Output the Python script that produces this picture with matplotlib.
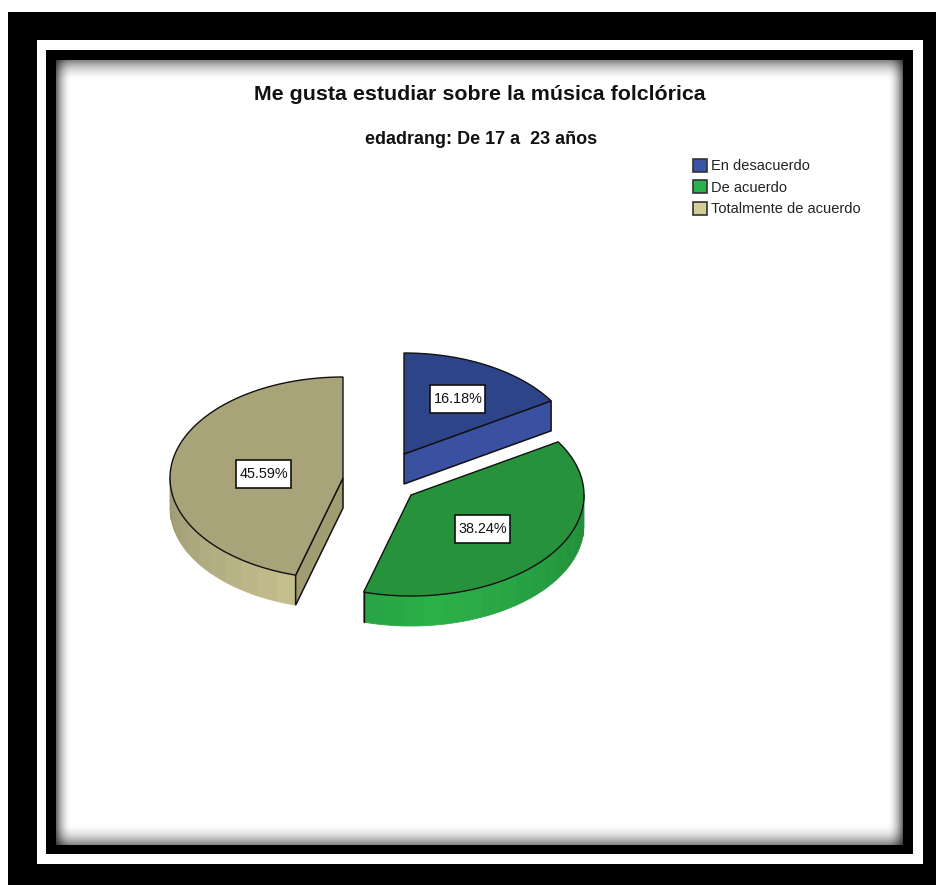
import matplotlib
matplotlib.use('Agg')
import matplotlib.pyplot as plt
from matplotlib.patches import Polygon, Rectangle, Patch
import numpy as np

plt.rcParams['font.family'] = ['Liberation Sans', 'DejaVu Sans']

# Data
categories = ['En desacuerdo', 'De acuerdo', 'Totalmente de acuerdo']
percents = [16.18, 38.24, 45.59]
title = 'Me gusta estudiar sobre la música folclórica'
subtitle = 'edadrang: De 17 a  23 años'

# Colours per slice
top_colors = ['#2e4489', '#26923b', '#a9a379']
side_light = ['#3a50a0', '#2bb049', '#c6c08e']
side_dark = ['#3a50a0', '#218a38', '#9b9672']
cut_colors = ['#3a50a0', '#26923b', '#a29c73']
legend_colors = ['#3a53a4', '#2db14a', '#d3ce97']

# Pie geometry in pixels: each slice has its own apex because they are exploded
apex = [(404, 454), (411, 495), (343, 478)]
label_pos = [(458, 399), (483, 529), (264, 474)]
rx, ry = 173, 101
depth = 30


def rim(center, t):
    return center[0] + rx * np.sin(t), center[1] - ry * np.cos(t)


fig = plt.figure(figsize=(9.37, 8.85), dpi=100)
ax = fig.add_axes([0, 0, 1, 1])
ax.set_xlim(0, 937)
ax.set_ylim(885, 0)
ax.axis('off')

# Frame: black, white, black, then the white page with a soft inner shadow
ax.add_patch(Rectangle((8, 12), 929, 873, fc='black', ec='none'))
ax.add_patch(Rectangle((37, 40), 886, 824, fc='white', ec='none'))
ax.add_patch(Rectangle((46, 50), 867, 804, fc='black', ec='none'))
xs = np.arange(0, 847) + 0.5
ys = np.arange(0, 785) + 0.5
gx, gy = np.meshgrid(xs, ys)
dx = np.minimum(gx, 847 - gx)
dy = np.minimum(gy, 785 - gy)
shade = (1 - 0.62 * np.clip(1 - dx / 16, 0, 1) ** 2) * (1 - 0.5 * np.clip(1 - dy / 22, 0, 1) ** 2)
ax.imshow(shade, cmap='gray', vmin=0, vmax=1, extent=(56, 903, 845, 60), aspect='auto', zorder=1)
ax.set_xlim(0, 937)
ax.set_ylim(885, 0)

# Slice angles, clockwise from 12 o'clock
edges = np.radians(np.cumsum([0] + percents) * 360 / sum(percents))

for i in range(len(percents)):
    t0, t1 = edges[i], edges[i + 1]
    c = apex[i]

    # visible outer wall, in bands from light (front) to dark (side)
    lo, hi = max(t0, np.pi / 2), min(t1, 3 * np.pi / 2)
    if hi > lo:
        bands = np.linspace(lo, hi, int(np.degrees(hi - lo) / 7) + 2)
        front = min(max(np.radians(170), lo), hi)
        for a, b in zip(bands[:-1], bands[1:]):
            mid = (a + b) / 2
            span = max(front - lo, hi - front, 1e-6)
            f = np.clip(abs(mid - front) / span, 0, 1)
            light = np.array(matplotlib.colors.to_rgb(side_light[i]))
            dark = np.array(matplotlib.colors.to_rgb(side_dark[i]))
            col = light + (dark - light) * f
            tt = np.linspace(a, b, 8)
            px, py = rim(c, tt)
            pts = np.r_[np.c_[px, py], np.c_[px, py + depth][::-1]]
            ax.add_patch(Polygon(pts, fc=col, ec=col, lw=0.6, zorder=3))

    # flat cut face facing the viewer (blue right edge, tan front edge)
    if i in (0, 2):
        ang = t1 if i == 0 else t0
        ex, ey = rim(c, ang)
        face = [(c[0], c[1]), (ex, ey), (ex, ey + depth), (c[0], c[1] + depth)]
        ax.add_patch(Polygon(face, fc=cut_colors[i], ec='#111111', lw=1.1, zorder=4))

    # top face
    tt = np.linspace(t0, t1, 120)
    px, py = rim(c, tt)
    pts = np.r_[[c], np.c_[px, py]]
    ax.add_patch(Polygon(pts, fc=top_colors[i], ec='#111111', lw=1.0, joinstyle='miter', zorder=5))

    # dark vertical corner on the green slice
    if i == 1:
        ex, ey = rim(c, t1)
        ax.plot([ex, ex], [ey, ey + depth], color='#111111', lw=1.0, zorder=6)

    # value label in a white box
    lx, ly = label_pos[i]
    ax.add_patch(Rectangle((lx - 27.5, ly - 14), 55, 28, fc='white', ec='#111111', lw=1.2, zorder=7))
    ax.text(lx, ly, f'{percents[i]:.2f}%', ha='center', va='center', fontsize=10.4, color='#111111', zorder=8)

# Titles
ax.text(480, 94, title, ha='center', va='center', fontsize=15.4, fontweight='bold', color='#111111', zorder=8)
ax.text(481, 139, subtitle, ha='center', va='center', fontsize=13, fontweight='bold', color='#111111', zorder=8)

# Legend
handles = [Patch(fc=col, ec='#333333', lw=1.2) for col in legend_colors]
ax.legend(handles, categories, loc='upper left', bbox_to_anchor=(690 / 937, 1 - 156 / 885),
          bbox_transform=fig.transFigure, frameon=False, fontsize=10.5, handlelength=1.0, handleheight=1.0,
          labelspacing=0.48, handletextpad=0.25, borderpad=0.2, borderaxespad=0,
          labelcolor='#222222').set_zorder(8)

fig.savefig('out.png', dpi=100)
